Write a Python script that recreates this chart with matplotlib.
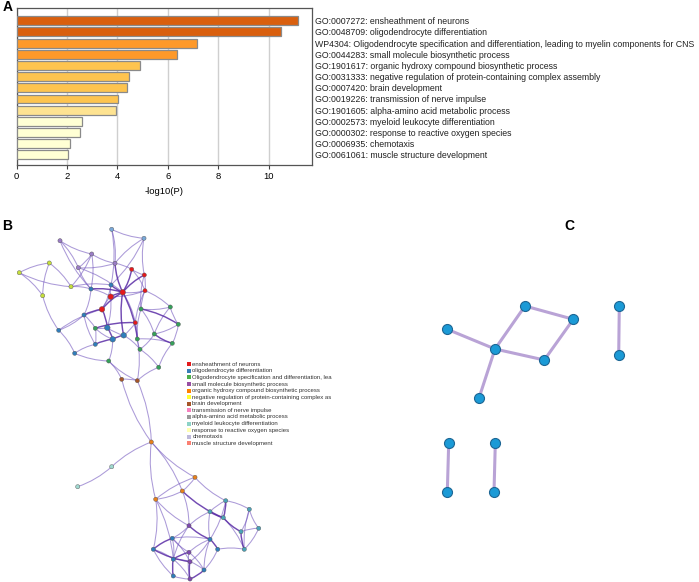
import numpy as np
import matplotlib
matplotlib.use("Agg")
import matplotlib.pyplot as plt
from matplotlib.path import Path
from matplotlib.patches import PathPatch

plt.rcParams['font.family'] = ['Liberation Sans', 'DejaVu Sans']

# ---------------- panel A data ----------------
terms = [
    "GO:0007272: ensheathment of neurons",
    "GO:0048709: oligodendrocyte differentiation",
    "WP4304: Oligodendrocyte specification and differentiation, leading to myelin components for CNS",
    "GO:0044283: small molecule biosynthetic process",
    "GO:1901617: organic hydroxy compound biosynthetic process",
    "GO:0031333: negative regulation of protein-containing complex assembly",
    "GO:0007420: brain development",
    "GO:0019226: transmission of nerve impulse",
    "GO:1901605: alpha-amino acid metabolic process",
    "GO:0002573: myeloid leukocyte differentiation",
    "GO:0000302: response to reactive oxygen species",
    "GO:0006935: chemotaxis",
    "GO:0061061: muscle structure development",
]
logp = [11.15, 10.49, 7.17, 6.36, 4.89, 4.47, 4.36, 4.02, 3.94, 2.60, 2.52, 2.13, 2.05]
bar_colors = ["#d95f0e", "#d95f0e", "#fe9929", "#fe9929", "#fec44f", "#fec44f",
              "#fec44f", "#fec44f", "#fee391", "#ffffd4", "#ffffd4", "#ffffd4", "#ffffd4"]

# ---------------- panel B data (network layout, pixel space) ----------------
legend_names = [
    "ensheathment of neurons",
    "oligodendrocyte differentiation",
    "Oligodendrocyte specification and differentiation, lea",
    "small molecule biosynthetic process",
    "organic hydroxy compound biosynthetic process",
    "negative regulation of protein-containing complex as",
    "brain development",
    "transmission of nerve impulse",
    "alpha-amino acid metabolic process",
    "myeloid leukocyte differentiation",
    "response to reactive oxygen species",
    "chemotaxis",
    "muscle structure development",
]
legend_colors = ["#e41a1c", "#377eb8", "#4daf4a", "#984ea3", "#ff7f00", "#ffff33", "#a65628",
                 "#f781bf", "#999999", "#8dd3c7", "#ffffb3", "#bebada", "#fb8072"]

node_x = [111.7, 144.0, 60.0, 91.7, 49.3, 19.3, 78.3, 115.0, 131.7, 144.3,
          71.0, 42.7, 91.0, 111.0, 110.7, 122.7, 145.0, 102.0, 84.0, 141.0,
          170.3, 135.3, 178.3, 58.7, 95.3, 107.3, 123.7, 112.7, 154.3, 137.3,
          172.3, 95.3, 140.0, 74.7, 108.7, 158.7, 121.7, 137.3, 151.3, 111.7,
          77.7, 195.0, 182.3, 155.7, 225.7, 210.0, 249.3, 223.3, 241.0, 258.7,
          189.0, 172.3, 210.0, 153.3, 217.7, 244.3, 189.0, 173.3, 190.0, 204.0,
          173.3, 190.0]
node_y = [229.3, 238.3, 240.7, 254.0, 263.0, 272.7, 267.7, 263.3, 269.3, 275.0,
          286.7, 295.7, 289.0, 285.0, 296.7, 292.3, 290.7, 309.3, 315.0, 309.0,
          307.0, 322.7, 324.3, 330.3, 328.3, 327.7, 335.3, 339.3, 334.0, 339.0,
          343.3, 344.3, 349.3, 353.3, 361.0, 367.3, 379.3, 380.7, 442.0, 466.7,
          486.7, 477.3, 491.0, 499.3, 500.7, 511.7, 509.3, 517.7, 531.7, 528.3,
          525.7, 538.3, 539.3, 549.3, 549.3, 549.3, 552.3, 559.3, 561.7, 570.0,
          576.0, 579.0]
node_group = ["lb", "lb", "pu", "pu", "yg", "yg", "pu", "pu", "red", "red",
              "yg", "yg", "blue", "blue", "red", "red", "red", "red", "blue", "green",
              "green", "red", "green", "blue", "green", "blue", "blue", "blue", "green", "green",
              "green", "blue", "green", "blue", "green", "green", "brown", "brown", "orange", "lteal",
              "lteal", "orange", "orange", "orange", "teal", "teal", "teal", "teal", "teal", "teal",
              "purple", "blue", "blue", "blue", "blue", "teal", "purple", "blue", "purple", "blue",
              "blue", "purple"]
big_nodes = [14, 15, 17, 25, 26, 27]
group_colors = {"red": "#e41a1c", "blue": "#2f7dbb", "green": "#35a05a", "purple": "#7e48b0",
                "orange": "#e8801a", "yg": "#c6df3c", "brown": "#a65628", "lteal": "#9fd8cf",
                "teal": "#4aa3b8", "lb": "#78a8d8", "pu": "#9a7cc6"}

edges = [(0, 1), (0, 7), (1, 7), (1, 13), (2, 3), (2, 6), (2, 12), (3, 6), (3, 7), (3, 10),
         (4, 5), (4, 10), (4, 11), (5, 11), (5, 10), (10, 13), (6, 7), (6, 15), (7, 15), (7, 8),
         (8, 9), (8, 15), (9, 15), (9, 16), (15, 16), (14, 15), (14, 17), (12, 15), (13, 15),
         (12, 14), (15, 17), (15, 21), (15, 26), (15, 29), (17, 18), (17, 25), (17, 23), (18, 24),
         (18, 31), (18, 23), (19, 20), (19, 22), (20, 22), (19, 28), (20, 28), (22, 30), (28, 30),
         (22, 28), (21, 24), (21, 29), (24, 25), (24, 31), (25, 26), (25, 27), (26, 27), (26, 32),
         (27, 31), (27, 34), (29, 32), (28, 32), (30, 35), (32, 35), (31, 33), (23, 33), (33, 34),
         (34, 36), (34, 37), (36, 37), (35, 37), (29, 37), (16, 19), (16, 20), (9, 19),
         (0, 13), (1, 9), (3, 12), (6, 12), (12, 18), (13, 14), (14, 25), (16, 21), (21, 26),
         (24, 27), (29, 30), (19, 29), (8, 16), (11, 23), (10, 12), (14, 16), (13, 17),
         (36, 38), (37, 38), (38, 39), (39, 40), (38, 43), (38, 42), (38, 41),
         (41, 42), (41, 43), (42, 43), (42, 47), (42, 50), (43, 50), (43, 53), (44, 45), (44, 47),
         (45, 47), (44, 46), (46, 49), (46, 48), (47, 48), (48, 49), (48, 55), (47, 55), (45, 52),
         (50, 51), (50, 52), (51, 52), (51, 53), (51, 57), (51, 56), (52, 54), (52, 56), (53, 57),
         (53, 58), (54, 55), (56, 57), (56, 59), (56, 61), (57, 58), (57, 60), (58, 59), (58, 61),
         (59, 61), (60, 61), (57, 61), (50, 57), (52, 58), (45, 50), (43, 57), (41, 44),
         (44, 52), (46, 55), (49, 55), (53, 60), (54, 59), (52, 59), (51, 58)]
strong_edges = [(15, 17), (14, 15), (15, 26), (12, 15), (13, 15), (17, 25), (25, 27), (26, 27),
                (27, 31), (21, 24), (15, 29), (8, 15), (9, 15), (7, 15), (17, 18), (42, 47),
                (50, 52), (51, 53), (53, 58), (56, 57), (57, 60), (58, 61), (59, 61), (48, 55),
                (44, 47), (45, 47), (47, 48), (52, 54), (19, 22), (28, 30)]

# ---------------- panel C data ----------------
c_x = [447.3, 495.0, 525.0, 573.3, 544.3, 479.0, 619.3, 618.7, 448.7, 447.3, 495.3, 494.0]
c_y = [329.3, 349.0, 306.0, 319.3, 360.0, 398.0, 306.0, 355.0, 443.3, 492.3, 443.3, 492.3]
c_edges = [(0, 1), (1, 2), (2, 3), (3, 4), (4, 1), (1, 5), (6, 7), (8, 9), (10, 11)]

W, H = 699, 582
fig = plt.figure(figsize=(W / 100, H / 100), dpi=100)

# ================= Panel A =================
ax = fig.add_axes([16.7 / W, 1 - 165 / H, (312 - 16.7) / W, (165 - 8) / H])
ypos = np.arange(len(terms))
ax.barh(ypos, logp, height=0.8, color=bar_colors, edgecolor="#8a8a8a", linewidth=0.9, zorder=3)
ax.set_ylim(len(terms) - 1 + 0.9, -1.13)
ax.set_xlim(0, 11.72)
ax.set_xticks([0, 2, 4, 6, 8, 10])
ax.grid(axis="x", color="#cfcfcf", linewidth=1.0, zorder=0)
ax.set_yticks(ypos)
ax.set_yticklabels(terms, fontsize=6.3, color="#222222")
ax.yaxis.tick_right()
ax.tick_params(axis="y", length=0, pad=2.5)
ax.tick_params(axis="x", labelsize=6.8, length=3, width=0.8, color="#444444", pad=2)
for s in ax.spines.values():
    s.set_color("#555555")
    s.set_linewidth(0.9)
ax.set_xlabel("-log10(P)", fontsize=6.8, labelpad=4)

# ================= Panels B and C (pixel space) =================
axn = fig.add_axes([0, 0, 1, 1 - 195 / H])
axn.set_xlim(0, W)
axn.set_ylim(H, 195)
axn.axis("off")

strong_set = set(strong_edges)
for k, (i, j) in enumerate(edges):
    x0, y0, x1, y1 = node_x[i], node_y[i], node_x[j], node_y[j]
    dx, dy = x1 - x0, y1 - y0
    sign = 1 if k % 2 == 0 else -1
    cx = (x0 + x1) / 2 - dy * 0.1 * sign
    cy = (y0 + y1) / 2 + dx * 0.1 * sign
    path = Path([(x0, y0), (cx, cy), (x1, y1)], [Path.MOVETO, Path.CURVE3, Path.CURVE3])
    if (i, j) in strong_set:
        patch = PathPatch(path, facecolor="none", edgecolor="#5a2ca6", lw=1.05, alpha=0.85, zorder=2)
    else:
        patch = PathPatch(path, facecolor="none", edgecolor="#7458bf", lw=0.75, alpha=0.6, zorder=1)
    axn.add_patch(patch)

sizes = [16 if n in big_nodes else 9 for n in range(len(node_x))]
axn.scatter(node_x, node_y, s=sizes, c=[group_colors[g] for g in node_group],
            edgecolors="#555555", linewidths=0.3, zorder=4)

# legend for B
for k, (name, col) in enumerate(zip(legend_names, legend_colors)):
    yy = 364.3 + k * 6.58
    axn.scatter([189.3], [yy], s=7, marker="s", c=col, linewidths=0, zorder=4)
    axn.text(192.3, yy, name, fontsize=4.3, color="#333333", va="center", ha="left")

# C network
for i, j in c_edges:
    axn.plot([c_x[i], c_x[j]], [c_y[i], c_y[j]], color="#b9a3d6", lw=2.2, zorder=1,
             solid_capstyle="round")
axn.scatter(c_x, c_y, s=52, c="#1b9ad6", edgecolors="#1d6694", linewidths=0.8, zorder=3)

# panel letters
fig.text(2.5 / W, 1 - 7 / H, "A", fontsize=10, fontweight="bold", va="center", ha="left")
fig.text(2.5 / W, 1 - 226 / H, "B", fontsize=10, fontweight="bold", va="center", ha="left")
fig.text(564 / W, 1 - 226 / H, "C", fontsize=10, fontweight="bold", va="center", ha="left")

fig.savefig("out.png", dpi=100)
